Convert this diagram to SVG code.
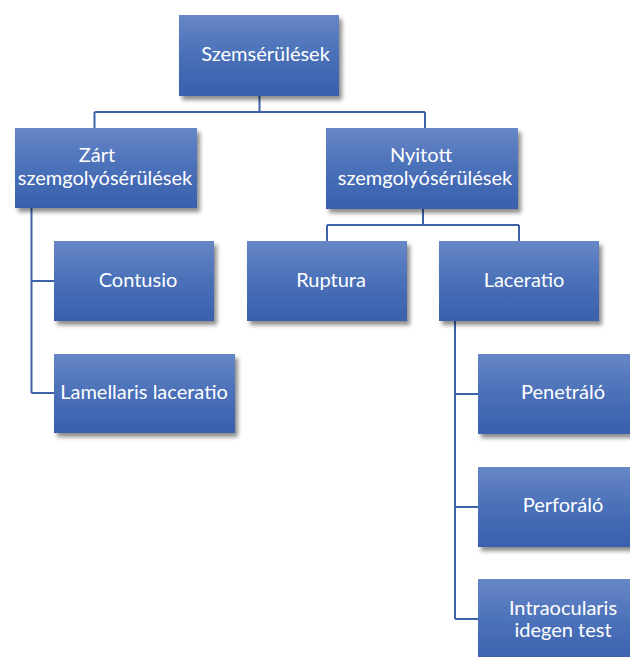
<svg xmlns="http://www.w3.org/2000/svg" width="630" height="657" viewBox="0 0 630 657">
<defs>
<linearGradient id="g" x1="0" y1="0" x2="0" y2="1">
<stop offset="0" stop-color="#6786c6"/>
<stop offset="0.5" stop-color="#4a70b8"/>
<stop offset="1" stop-color="#3960ad"/>
</linearGradient>
<filter id="sh" x="-10%" y="-10%" width="130%" height="140%">
<feDropShadow dx="3" dy="4" stdDeviation="2.2" flood-color="#000" flood-opacity="0.45"/>
</filter>
</defs>
<style>
.box{fill:url(#g);filter:url(#sh)}
.t{font-family:Lato,"Liberation Sans",sans-serif;font-size:20px;fill:#fff;text-anchor:middle}
.c{fill:none;stroke:#3d62aa;stroke-width:2}
</style>
<rect width="630" height="657" fill="#fff"/>
<g id="connectors">
<path class="c" d="M259.5 96V112M94.5 112H425M94.5 112V128M425 112V128"/>
<path class="c" d="M423 209V225M327 225H519M327 225V241M519 225V241"/>
<path class="c" d="M31.5 208V393M31.5 281H54M31.5 393H54"/>
<path class="c" d="M455 321V619M455 394H478M455 507H478M455 619H478"/>
</g>
<g id="n-szemserulesek"><rect class="box" x="179" y="15" width="160" height="81"/><text class="t" x="265.5" y="61">Szemsérülések</text></g>
<g id="n-zart"><rect class="box" x="15" y="128" width="182" height="80"/><text class="t" x="97" y="162">Zárt</text><text class="t" x="105" y="184.5">szemgolyósérülések</text></g>
<g id="n-nyitott"><rect class="box" x="326" y="128" width="192" height="81"/><text class="t" x="421" y="162">Nyitott</text><text class="t" x="425" y="184.5">szemgolyósérülések</text></g>
<g id="n-contusio"><rect class="box" x="54" y="241" width="160" height="80"/><text class="t" x="138" y="287">Contusio</text></g>
<g id="n-ruptura"><rect class="box" x="247" y="241" width="160" height="80"/><text class="t" x="331" y="287">Ruptura</text></g>
<g id="n-laceratio"><rect class="box" x="439" y="241" width="160" height="80"/><text class="t" x="524" y="287">Laceratio</text></g>
<g id="n-lamellaris"><rect class="box" x="54" y="354" width="181" height="79"/><text class="t" x="144" y="399">Lamellaris laceratio</text></g>
<g id="n-penetralo"><rect class="box" x="478" y="354" width="160" height="80"/><text class="t" x="563" y="399">Penetráló</text></g>
<g id="n-perforalo"><rect class="box" x="478" y="467" width="160" height="80"/><text class="t" x="563" y="512">Perforáló</text></g>
<g id="n-intraocularis"><rect class="box" x="478" y="579" width="160" height="90"/><text class="t" x="563" y="615">Intraocularis</text><text class="t" x="563" y="637">idegen test</text></g>
</svg>
